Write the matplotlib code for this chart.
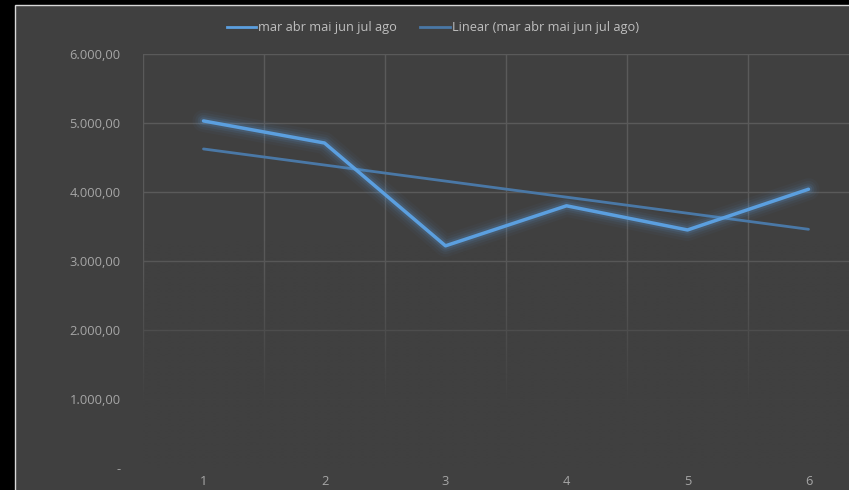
import numpy as np
import matplotlib
matplotlib.use("Agg")
import matplotlib.pyplot as plt
from matplotlib.patches import Rectangle
from matplotlib.ticker import FuncFormatter
from matplotlib.lines import Line2D

categories = [1, 2, 3, 4, 5, 6]
values = [5030, 4710, 3220, 3800, 3450, 4040]
series_name = "mar abr mai jun jul ago"
trend_name = "Linear (mar abr mai jun jul ago)"
y_ticks = [0, 1000, 2000, 3000, 4000, 5000, 6000]

BG = "#404040"
GRID = "#5a5a5a"
MAIN = "#5b9fdf"
TREND = "#4a78a6"
TICK = "#a6a6a6"
LEG = "#bfbfbf"

fig = plt.figure(figsize=(8.49, 4.90), dpi=100, facecolor="black")
# chart area
fig.patches.append(Rectangle((15/849, -0.1), 1.2, 1 - 5/490 + 0.1, transform=fig.transFigure,
                             facecolor=BG, edgecolor="#d9d9d9", linewidth=1.0, zorder=-5))

ax = fig.add_axes([143/849, 1 - 468/490, 726/849, (468-54)/490])
ax.set_zorder(2)
ax.patch.set_alpha(0)
for s in ax.spines.values():
    s.set_visible(False)

ax.set_xlim(0.5, 6.5)
ax.set_ylim(0, 6000)
ax.set_yticks(y_ticks)
ax.set_xticks(categories)

def fmt(v, pos):
    if v == 0:
        return "-"
    s = f"{v:,.2f}"
    return s.replace(",", "X").replace(".", ",").replace("X", ".")
ax.yaxis.set_major_formatter(FuncFormatter(fmt))

ax.tick_params(axis="both", length=0, colors=TICK, labelsize=9.3)
ax.tick_params(axis="y", pad=16)
ax.tick_params(axis="x", pad=5)
for lab in ax.get_xticklabels() + ax.get_yticklabels():
    lab.set_fontfamily("Open Sans")

# gridlines
for yv in y_ticks[1:]:
    ax.axhline(yv, color=GRID, lw=1.0, zorder=1)
for xv in np.arange(0.5, 7.0, 1.0):
    ax.axvline(xv, color=GRID, lw=1.0, zorder=1)

# fade overlay toward the bottom
grad = np.zeros((200, 1, 4))
rgb = matplotlib.colors.to_rgb(BG)
grad[..., 0], grad[..., 1], grad[..., 2] = rgb
yy = np.linspace(6000, 0, 200)
alpha = np.clip((3300 - yy) / (3300 - 900), 0, 1) ** 1.2
grad[:, 0, 3] = alpha
ax.imshow(grad, extent=[0.5, 6.5, 0, 6000], aspect="auto", zorder=2, interpolation="bilinear")

# trend line from linear fit
x = np.array(categories, dtype=float)
slope, intercept = np.polyfit(x, np.array(values, dtype=float), 1)
ax.plot(x, slope * x + intercept, color=TREND, lw=2.0, zorder=3, solid_capstyle="round")

# glow
for w, a in [(16, 0.04), (12, 0.06), (8.5, 0.09), (5.5, 0.14)]:
    ax.plot(categories, values, color=MAIN, lw=w, alpha=a, zorder=4,
            solid_capstyle="round", solid_joinstyle="round")
ax.plot(categories, values, color=MAIN, lw=2.5, zorder=5,
        solid_capstyle="round", solid_joinstyle="round")

h1 = Line2D([], [], color=MAIN, lw=2.0)
h2 = Line2D([], [], color=TREND, lw=2.0)
leg = fig.legend([h1, h2], [series_name, trend_name], loc="center",
                 bbox_to_anchor=(433/849, 1 - 28/490), ncol=2, frameon=False,
                 handlelength=2.3, handletextpad=0.2, columnspacing=1.8,
                 prop={"family": "Open Sans", "size": 9.2})
for t in leg.get_texts():
    t.set_color(LEG)

fig.savefig("out.png", dpi=100, facecolor="black")
